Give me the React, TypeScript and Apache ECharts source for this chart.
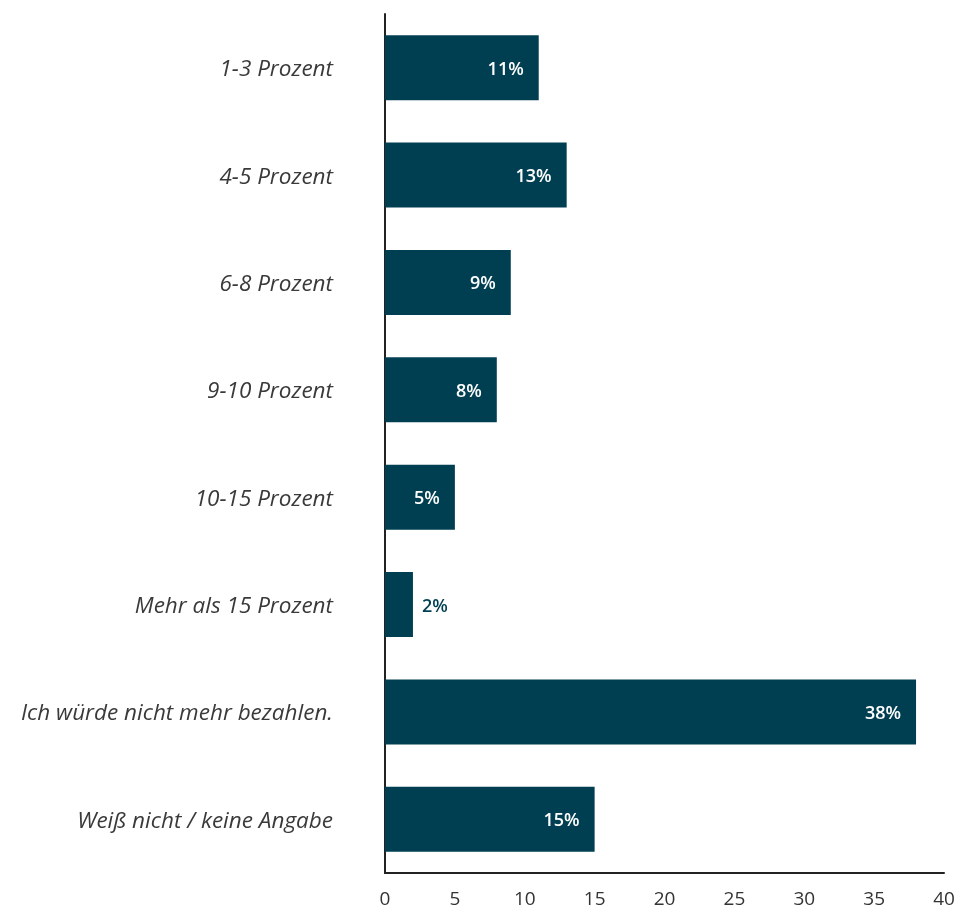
import React, { useEffect, useRef } from "react";
import * as echarts from "echarts";

const categories = [
  "1-3 Prozent",
  "4-5 Prozent",
  "6-8 Prozent",
  "9-10 Prozent",
  "10-15 Prozent",
  "Mehr als 15 Prozent",
  "Ich würde nicht mehr bezahlen.",
  "Weiß nicht / keine Angabe",
];
const values = [11, 13, 9, 8, 5, 2, 38, 15];
const outsideLabelIndices = [5];

const BAR = "#003f52";
const FONT = "'Open Sans', sans-serif";

export default function App() {
  const ref = useRef<HTMLDivElement>(null);
  useEffect(() => {
    if (!ref.current) return;
    const chart = echarts.init(ref.current, undefined, { renderer: "svg" });
    chart.setOption({
      animation: false,
      grid: { left: 385, right: 14, top: 14, bottom: 38, containLabel: false },
      xAxis: {
        type: "value",
        min: 0,
        max: 40,
        interval: 5,
        axisLine: { show: true, lineStyle: { color: "#222", width: 2 } },
        axisTick: { show: false },
        splitLine: { show: false },
        axisLabel: { color: "#333", fontSize: 19, fontFamily: FONT, margin: 15 },
      },
      yAxis: {
        type: "category",
        data: categories,
        inverse: true,
        axisLine: { show: true, lineStyle: { color: "#222", width: 2 } },
        axisTick: { show: false },
        axisLabel: {
          color: "#3a3a3a",
          fontSize: 22.5,
          fontStyle: "italic",
          fontWeight: 400,
          fontFamily: FONT,
          margin: 52,
        },
      },
      series: [
        {
          type: "bar",
          barWidth: 65,
          itemStyle: { color: BAR },
          data: values.map((v, i) => {
            const outside = outsideLabelIndices.includes(i);
            return {
              value: v,
              label: outside
                ? { position: "right", color: BAR, distance: 9 }
                : { position: "insideRight", color: "#fff", distance: 15 },
            };
          }),
          label: {
            show: true,
            formatter: "{c}%",
            fontSize: 18,
            fontWeight: 600,
            fontFamily: FONT,
          },
        },
      ],
    });
    return () => chart.dispose();
  }, []);
  return (
    <div
      ref={ref}
      style={{ position: "fixed", left: 0, top: 0, width: 958, height: 911 }}
    />
  );
}
